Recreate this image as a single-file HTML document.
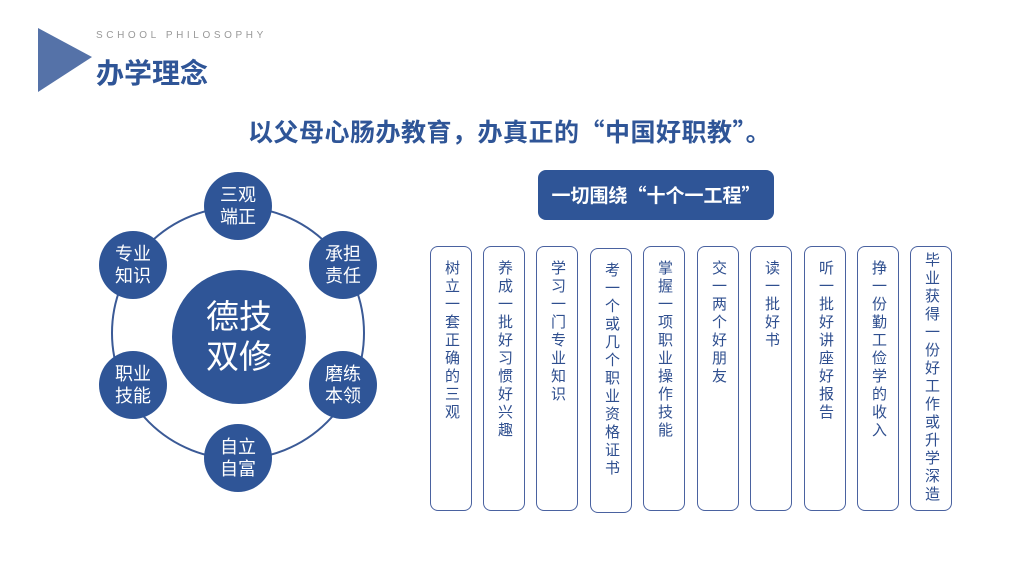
<!DOCTYPE html>
<html><head><meta charset="utf-8"><style>
body{margin:0;width:1024px;height:576px;background:#fff;position:relative;overflow:hidden;font-family:"Liberation Sans","Noto Sans CJK SC",sans-serif;}
.abs{position:absolute}
.q{font-family:"Noto Sans CJK SC",sans-serif}
.col{position:absolute;top:246px;width:42px;height:265px;border:1.5px solid #4a62a0;border-radius:8px;box-sizing:border-box;}
.col span{position:absolute;font-size:15px;line-height:18px;color:#2f4f8f;writing-mode:vertical-rl;text-orientation:upright;left:50%;transform:translateX(-50%);top:13px;letter-spacing:3px}
.n{position:absolute;width:68px;height:68px;border-radius:50%;background:#2f5597;color:#fff;font-size:18px;line-height:22px;display:flex;align-items:center;justify-content:center;text-align:center}
</style></head><body>
<svg class="abs" style="left:0;top:0" width="1024" height="576">
<polygon points="38,28 38,92 92,57" fill="#5572a8"/>
<circle cx="238" cy="333" r="126" fill="none" stroke="#3b5a96" stroke-width="2"/>
</svg>
<div class="abs" style="left:96px;top:30px;font-size:10px;letter-spacing:3.6px;color:#999">SCHOOL PHILOSOPHY</div>
<div class="abs" style="left:96px;top:52px;font-size:28px;font-weight:bold;color:#2f5597">办学理念</div>
<div class="abs" style="left:248px;top:113px;font-size:25px;font-weight:bold;color:#2f5597;letter-spacing:0.5px">以父母心肠办教育，办真正的<span class="q">“</span>中国好职教<span class="q">”</span>。</div>
<div class="abs" style="left:538px;top:170px;width:236px;height:50px;border-radius:8px;background:#2f5597;color:#fff;font-size:19px;font-weight:bold;line-height:50px;text-align:center">一切围绕<span class="q">“</span>十个一工程<span class="q">”</span></div>
<div class="abs" style="left:172px;top:270px;width:134px;height:134px;border-radius:50%;background:#2f5597;color:#fff;font-size:33px;line-height:40px;display:flex;align-items:center;justify-content:center;text-align:center">德技<br>双修</div>
<div class="n" style="left:204px;top:172px">三观<br>端正</div>
<div class="n" style="left:309px;top:231px">承担<br>责任</div>
<div class="n" style="left:309px;top:351px">磨练<br>本领</div>
<div class="n" style="left:204px;top:424px">自立<br>自富</div>
<div class="n" style="left:99px;top:351px">职业<br>技能</div>
<div class="n" style="left:99px;top:231px">专业<br>知识</div>
<div class="col" style="left:430px"><span>树立一套正确的三观</span></div>
<div class="col" style="left:483px"><span>养成一批好习惯好兴趣</span></div>
<div class="col" style="left:536px"><span>学习一门专业知识</span></div>
<div class="col" style="left:590px;top:248px"><span>考一个或几个职业资格证书</span></div>
<div class="col" style="left:643px"><span>掌握一项职业操作技能</span></div>
<div class="col" style="left:697px"><span>交一两个好朋友</span></div>
<div class="col" style="left:750px"><span>读一批好书</span></div>
<div class="col" style="left:804px"><span>听一批好讲座好报告</span></div>
<div class="col" style="left:857px"><span>挣一份勤工俭学的收入</span></div>
<div class="col" style="left:910px"><span style="top:5px">毕业获得一份好工作或升学深造</span></div>
</body></html>
